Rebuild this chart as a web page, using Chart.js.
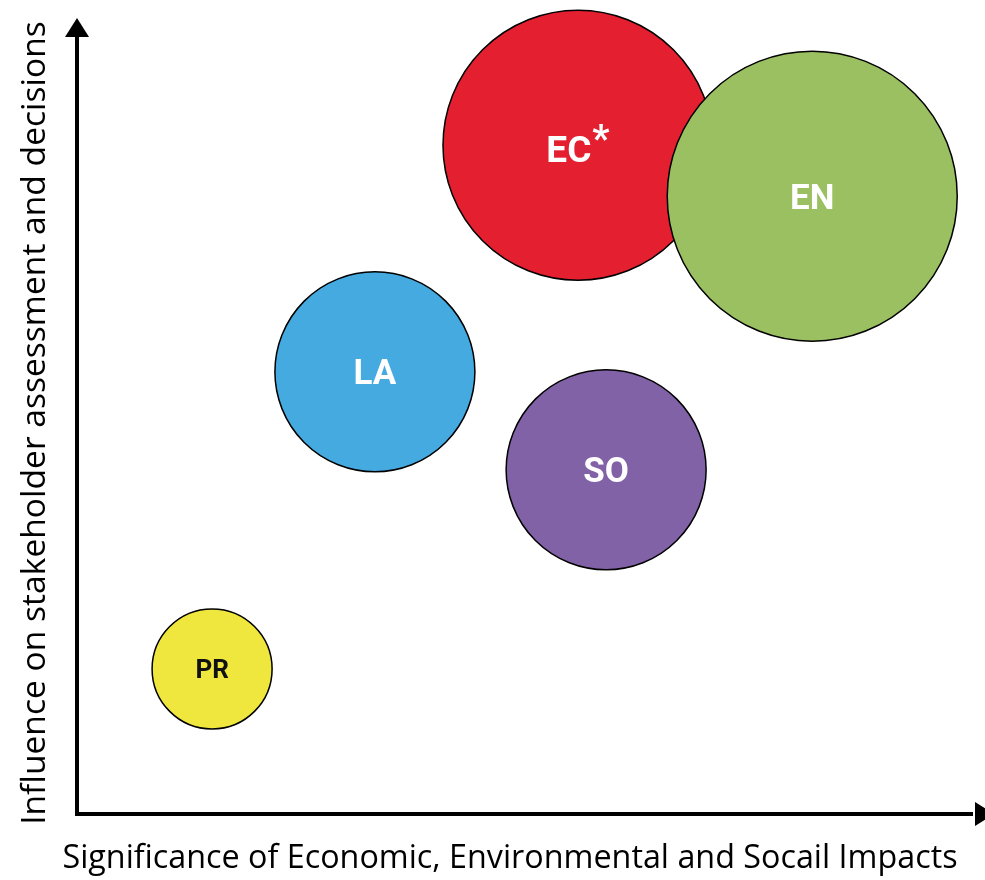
<!DOCTYPE html>
<html>
<head>
<meta charset="utf-8">
<script src="https://cdn.jsdelivr.net/npm/chart.js@4.4.0/dist/chart.umd.min.js"></script>
<style>
  html, body { margin: 0; padding: 0; background: #ffffff; }
  #wrap { width: 985px; height: 880px; position: relative; }
</style>
</head>
<body>
<div id="wrap"><canvas id="c" width="985" height="880"></canvas></div>
<script>
// ---- data ----
const categories = ['PR', 'LA', 'SO', 'EC', 'EN'];
const significance = [15.6, 34.4, 61.1, 57.85, 84.9];  // x values
const influence = [18.5, 56.4, 43.9, 85.3, 78.8];      // y values
const bubbleSizes = [60, 100, 100, 135, 145];          // bubble radius
const superscripts = ['', '', '', '*', ''];
const xTitle = 'Significance of Economic, Environmental and Socail Impacts';
const yTitle = 'Influence on stakeholder assessment and decisions';

const fillColors = ['#EFE73E', '#45AAE0', '#8262A6', '#E31F30', '#9BC062'];
const labelColors = ['#111111', '#ffffff', '#ffffff', '#ffffff', '#ffffff'];

const points = categories.map((c, i) => ({ x: significance[i], y: influence[i], r: bubbleSizes[i] }));

const titleFamily = "'Open Sans'";
function fitSize(ctx, text, targetWidth) {
  ctx.font = '100px ' + titleFamily;
  return 100 * targetWidth / ctx.measureText(text).width;
}

const axisPlugin = {
  id: 'axesWithArrows',
  afterDraw(chart) {
    const { ctx, chartArea } = chart;
    const x0 = chartArea.left, y0 = chartArea.bottom;
    const xEnd = chart.width;
    ctx.save();
    ctx.strokeStyle = '#000';
    ctx.fillStyle = '#000';
    ctx.lineWidth = 4;
    ctx.beginPath();
    ctx.moveTo(x0, chartArea.top + 4);
    ctx.lineTo(x0, y0);
    ctx.lineTo(xEnd - 12, y0);
    ctx.stroke();
    ctx.beginPath();
    ctx.moveTo(x0, chartArea.top - 12);
    ctx.lineTo(x0 - 12, chartArea.top + 7);
    ctx.lineTo(x0 + 12, chartArea.top + 7);
    ctx.closePath();
    ctx.fill();
    ctx.beginPath();
    ctx.moveTo(xEnd + 9, y0);
    ctx.lineTo(xEnd - 10, y0 - 12);
    ctx.lineTo(xEnd - 10, y0 + 12);
    ctx.closePath();
    ctx.fill();

    // axis titles
    ctx.textAlign = 'center';
    ctx.textBaseline = 'middle';
    const xs = fitSize(ctx, xTitle, 894);
    ctx.font = xs.toFixed(1) + 'px ' + titleFamily;
    ctx.fillText(xTitle, (x0 + chartArea.right) / 2, y0 + 45);
    const ys = fitSize(ctx, yTitle, 805);
    ctx.font = ys.toFixed(1) + 'px ' + titleFamily;
    ctx.translate(x0 - 42, (chartArea.top + y0) / 2 + 1);
    ctx.rotate(-Math.PI / 2);
    ctx.fillText(yTitle, 0, 0);
    ctx.restore();
  }
};

const labelPlugin = {
  id: 'bubbleLabels',
  afterDatasetsDraw(chart) {
    const { ctx } = chart;
    const meta = chart.getDatasetMeta(0);
    ctx.save();
    ctx.textBaseline = 'alphabetic';
    ctx.textAlign = 'left';
    meta.data.forEach((el, i) => {
      const size = categories[i] === 'PR' ? 26 : (superscripts[i] ? 37 : 35);
      const main = categories[i];
      const sup = superscripts[i];
      ctx.fillStyle = labelColors[i];
      ctx.font = 'bold ' + size + 'px Roboto';
      const wMain = ctx.measureText(main).width;
      let wSup = 0;
      const supSize = 38;
      if (sup) {
        ctx.font = 'bold ' + supSize + 'px Roboto';
        wSup = ctx.measureText(sup).width + 1;
      }
      const startX = el.x - (wMain + wSup) / 2;
      const baseY = el.y + size * 0.711 / 2 + (sup ? 4 : 0);
      ctx.font = 'bold ' + size + 'px Roboto';
      ctx.fillText(main, startX, baseY);
      if (sup) {
        ctx.font = 'bold ' + supSize + 'px Roboto';
        ctx.fillText(sup, startX + wMain + 1, baseY - 10);
      }
    });
    ctx.restore();
  }
};

new Chart(document.getElementById('c'), {
  type: 'bubble',
  data: {
    datasets: [{
      label: 'Aspects',
      data: points,
      backgroundColor: fillColors,
      borderColor: '#000000',
      borderWidth: 1.5,
      hoverBorderWidth: 1.5,
      clip: false
    }]
  },
  options: {
    responsive: false,
    animation: false,
    events: [],
    layout: { autoPadding: false, padding: { top: 30, right: 42, bottom: 66, left: 77 } },
    plugins: { legend: { display: false }, tooltip: { enabled: false } },
    scales: {
      x: { type: 'linear', min: 0, max: 100, display: false },
      y: { type: 'linear', min: 0, max: 100, display: false }
    }
  },
  plugins: [axisPlugin, labelPlugin]
});
</script>
</body>
</html>
